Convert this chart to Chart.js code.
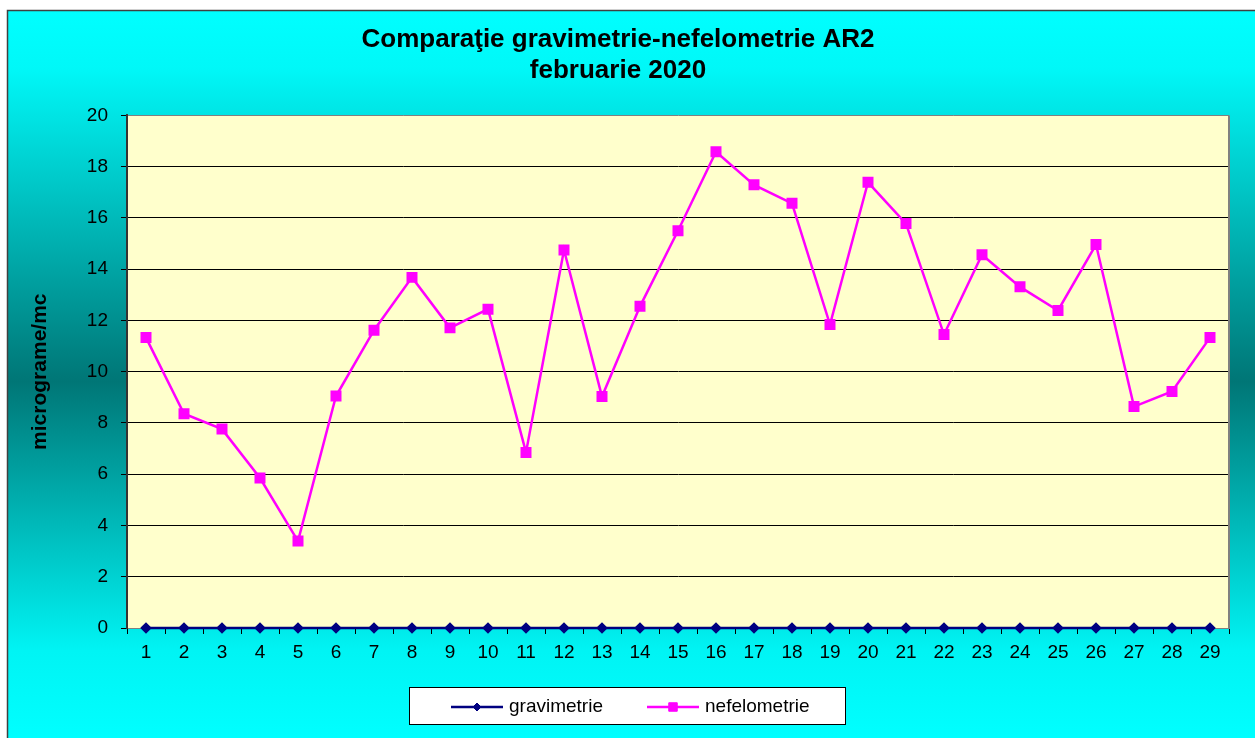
<!DOCTYPE html>
<html>
<head>
<meta charset="utf-8">
<script src="https://cdn.jsdelivr.net/npm/chart.js@4.4.1/dist/chart.umd.min.js"></script>
<style>
html, body { margin: 0; padding: 0; background: #fff; }
#chart { display: block; }
</style>
</head>
<body>
<canvas id="chart" width="1255" height="738"></canvas>
<script>
const days = ['1', '2', '3', '4', '5', '6', '7', '8', '9', '10', '11', '12', '13', '14', '15',
    '16', '17', '18', '19', '20', '21', '22', '23', '24', '25', '26', '27', '28', '29'];
const gravimetrie = [0, 0, 0, 0, 0, 0, 0, 0, 0, 0, 0, 0, 0, 0, 0,
    0, 0, 0, 0, 0, 0, 0, 0, 0, 0, 0, 0, 0, 0];
const nefelometrie = [11.33, 8.36, 7.76, 5.85, 3.39, 9.05, 11.62, 13.68, 11.71, 12.44, 6.85, 14.75, 9.03, 12.55, 15.5,
    18.58, 17.29, 16.57, 11.84, 17.39, 15.78, 11.45, 14.56, 13.31, 12.39, 14.96, 8.64, 9.23, 11.33];
const titleLines = ['Comparaţie gravimetrie-nefelometrie AR2', 'februarie 2020'];
const yTitle = 'micrograme/mc';
const yMin = 0;
const yMax = 20;
const yStep = 2;

Chart.defaults.font.family = '"Liberation Sans", Arial, sans-serif';
Chart.defaults.color = '#000';

// cyan gradient frame + yellow plot area + boxed legend
const frame = {
    id: 'frame',
    beforeDraw(chart) {
        const { ctx, width, height, chartArea: a } = chart;
        ctx.save();
        ctx.fillStyle = '#fff';
        ctx.fillRect(0, 0, width, height);
        const g = ctx.createLinearGradient(0, 10, 0, height);
        g.addColorStop(0, '#00ffff');
        g.addColorStop(0.08, '#00f8f8');
        g.addColorStop(0.51, '#007676');
        g.addColorStop(0.88, '#00f4f4');
        g.addColorStop(1, '#00ffff');
        ctx.fillStyle = g;
        ctx.fillRect(7, 10, width - 7, height - 10);
        ctx.strokeStyle = '#404040';
        ctx.lineWidth = 1.5;
        ctx.strokeRect(7.5, 10.5, width, height);
        ctx.fillStyle = '#ffffcc';
        ctx.fillRect(a.left, a.top, a.right - a.left, a.bottom - a.top);
        ctx.restore();
    },
    afterDraw(chart) {
        const { ctx, chartArea: a } = chart;
        ctx.save();
        ctx.strokeStyle = '#808080';
        ctx.lineWidth = 2;
        ctx.beginPath();
        ctx.moveTo(a.right, a.top);
        ctx.lineTo(a.right, a.bottom);
        ctx.stroke();

        // legend
        ctx.fillStyle = '#fff';
        ctx.fillRect(409, 687, 436, 37);
        ctx.strokeStyle = '#000';
        ctx.lineWidth = 1;
        ctx.strokeRect(409.5, 687.5, 436, 37);
        const starts = [451, 647];
        chart.data.datasets.forEach((ds, i) => {
            const x = starts[i];
            const y = 707;
            ctx.strokeStyle = ds.borderColor;
            ctx.lineWidth = ds.borderWidth;
            ctx.beginPath();
            ctx.moveTo(x, y);
            ctx.lineTo(x + 52, y);
            ctx.stroke();
            ctx.fillStyle = ds.pointBackgroundColor;
            ctx.strokeStyle = ds.pointBorderColor;
            ctx.lineWidth = 1;
            Chart.helpers.drawPoint(ctx, { pointStyle: ds.pointStyle, radius: ds.pointRadius, rotation: 0, borderWidth: 1 }, x + 26, y);
            ctx.fillStyle = '#000';
            ctx.font = '19px "Liberation Sans", Arial, sans-serif';
            ctx.textAlign = 'left';
            ctx.textBaseline = 'middle';
            ctx.fillText(ds.label, x + 58, y);
        });
        ctx.restore();
    }
};

new Chart(document.getElementById('chart'), {
    type: 'line',
    data: {
        labels: days,
        datasets: [
            {
                label: 'gravimetrie',
                data: gravimetrie,
                borderColor: '#000080',
                backgroundColor: '#000080',
                pointBackgroundColor: '#000080',
                pointBorderColor: '#000080',
                borderWidth: 2.5,
                pointStyle: 'rectRot',
                pointRadius: 4,
                tension: 0,
                fill: false,
                clip: false,
            },
            {
                label: 'nefelometrie',
                data: nefelometrie,
                borderColor: '#ff00ff',
                backgroundColor: '#ff00ff',
                pointBackgroundColor: '#ff00ff',
                pointBorderColor: '#ff00ff',
                borderWidth: 2.5,
                pointStyle: 'rect',
                pointRadius: 6,
                tension: 0,
                fill: false,
                clip: false,
            }
        ]
    },
    options: {
        responsive: false,
        animation: false,
        devicePixelRatio: 1,
        layout: {
            padding: { top: 10, right: 26, left: 7, bottom: 0 }
        },
        scales: {
            x: {
                offset: true,
                afterFit: (scale) => { scale.height = 110; },
                grid: {
                    offset: true,
                    drawOnChartArea: false,
                    tickLength: 6,
                    color: '#000',
                    tickColor: '#000',
                },
                border: { color: '#808080', width: 1 },
                ticks: {
                    font: { size: 19 },
                    color: '#000',
                    padding: 7,
                    maxRotation: 0,
                    autoSkip: false,
                },
            },
            y: {
                min: yMin,
                max: yMax,
                afterFit: (scale) => { scale.width = 120; },
                grid: {
                    color: (c) => (c.tick && c.tick.value === yMax ? '#808080' : '#000'),
                    tickColor: '#000',
                    tickLength: 6,
                },
                border: { color: '#333', width: 2 },
                ticks: {
                    stepSize: yStep,
                    font: { size: 19 },
                    color: '#000',
                    padding: 13,
                },
                title: {
                    display: true,
                    text: yTitle,
                    color: '#000',
                    font: { size: 21, weight: 'bold' },
                    padding: { top: 21, bottom: 0 },
                },
            }
        },
        plugins: {
            legend: { display: false },
            tooltip: { enabled: false },
            title: {
                display: true,
                text: titleLines,
                color: '#000',
                font: { size: 26, weight: 'bold', lineHeight: 1.2 },
                padding: { top: 14, bottom: 29 },
            },
        },
    },
    plugins: [frame]
});
</script>
</body>
</html>
